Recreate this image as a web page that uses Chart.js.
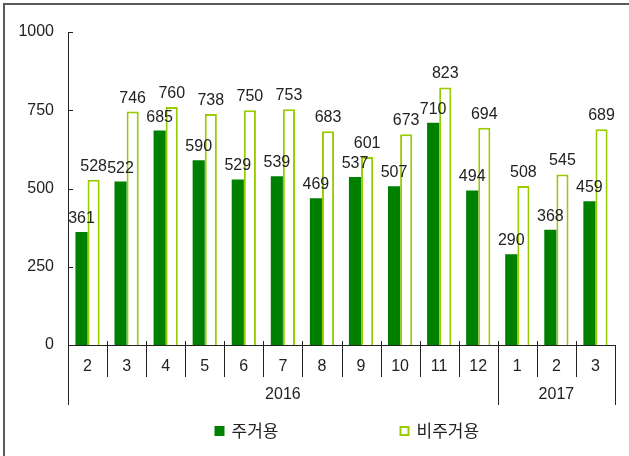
<!DOCTYPE html>
<html lang="ko">
<head>
<meta charset="utf-8">
<script src="https://cdn.jsdelivr.net/npm/chart.js@4.4.1/dist/chart.umd.min.js"></script>
<style>
  html, body { margin: 0; padding: 0; background: #fff; }
  #wrap { width: 629px; height: 456px; }
</style>
</head>
<body>
<div id="wrap"><canvas id="chart" width="629" height="456"></canvas></div>

<script>
    const months = ["2", "3", "4", "5", "6", "7", "8", "9", "10", "11", "12", "1", "2", "3"];
    const years = [{label: "2016", from: 0, to: 10}, {label: "2017", from: 11, to: 13}];
    const residential = [361, 522, 685, 590, 529, 539, 469, 537, 507, 710, 494, 290, 368, 459];
    const nonResidential = [528, 746, 760, 738, 750, 753, 683, 601, 673, 823, 694, 508, 545, 689];
    const yTicks = [0, 250, 500, 750, 1000];

    const numFamily = '"Liberation Sans", Arial, sans-serif';
    const numFont = '16px ' + numFamily;
    const krFont = '17px "Noto Sans CJK KR", sans-serif';
    const ink = "#222222";

    // frame, dividers, inward y ticks, year row, value labels and legend
    const extras = {
        id: "extras",
        beforeDraw(chart) {
            const ctx = chart.ctx;
            ctx.save();
            ctx.strokeStyle = "#5a5a5a";
            ctx.lineWidth = 2;
            ctx.beginPath();
            ctx.moveTo(4, chart.height);
            ctx.lineTo(4, 4);
            ctx.lineTo(chart.width, 4);
            ctx.stroke();
            ctx.restore();
        },
        afterDraw(chart) {
            const ctx = chart.ctx;
            const x = chart.scales.x, y = chart.scales.y;
            const area = chart.chartArea;
            const half = (x.getPixelForValue(1) - x.getPixelForValue(0)) / 2;
            const base = y.getPixelForValue(0);
            ctx.save();
            ctx.strokeStyle = ink;
            ctx.lineWidth = 1;

            // y ticks pointing into the plot
            yTicks.forEach(v => {
                const py = Math.round(y.getPixelForValue(v)) + 0.5;
                ctx.beginPath();
                ctx.moveTo(area.left, py);
                ctx.lineTo(area.left + 5, py);
                ctx.stroke();
            });

            // month dividers
            for (let i = 1; i < months.length; i++) {
                const px = Math.round(x.getPixelForValue(i) - half) + 0.5;
                ctx.beginPath();
                ctx.moveTo(px, base - 4);
                ctx.lineTo(px, base + 32);
                ctx.stroke();
            }

            // year row
            ctx.font = numFont;
            ctx.fillStyle = ink;
            ctx.textAlign = "center";
            ctx.textBaseline = "middle";
            const edges = new Set();
            years.forEach(g => {
                const l = x.getPixelForValue(g.from) - half;
                const r = x.getPixelForValue(g.to) + half;
                edges.add(Math.round(l)); edges.add(Math.round(r));
                ctx.fillText(g.label, (l + r) / 2, base + 50);
            });
            edges.forEach(px => {
                ctx.beginPath();
                ctx.moveTo(px + 0.5, base);
                ctx.lineTo(px + 0.5, base + 60);
                ctx.stroke();
            });

            // value labels
            ctx.textBaseline = "alphabetic";
            chart.data.datasets.forEach((ds, di) => {
                chart.getDatasetMeta(di).data.forEach((bar, i) => {
                    ctx.fillText(String(ds.data[i]), bar.x, bar.y - 9);
                });
            });

            // legend
            const mid = (area.left + area.right) / 2;
            const items = [
                {ds: chart.data.datasets[0], x: mid - 127},
                {ds: chart.data.datasets[1], x: mid + 58}
            ];
            const ly = base + 86;
            ctx.font = krFont;
            ctx.textAlign = "left";
            ctx.textBaseline = "middle";
            items.forEach(it => {
                if (it.ds.backgroundColor === "#ffffff") {
                    ctx.fillStyle = "#ffffff";
                    ctx.fillRect(it.x, ly - 5, 10, 10);
                    ctx.strokeStyle = it.ds.borderColor;
                    ctx.lineWidth = 2;
                    ctx.strokeRect(it.x + 1, ly - 4, 8, 8);
                } else {
                    ctx.fillStyle = it.ds.backgroundColor;
                    ctx.fillRect(it.x, ly - 5, 10, 10);
                }
                ctx.fillStyle = ink;
                ctx.fillText(it.ds.label, it.x + 17, ly);
            });
            ctx.restore();
        }
    };

    new Chart("chart", {
        type: "bar",
        data: {
            labels: months,
            datasets: [
                {
                    label: "주거용",
                    data: residential,
                    backgroundColor: "#008000",
                    borderWidth: 0,
                    categoryPercentage: 0.62,
                    barPercentage: 1
                },
                {
                    label: "비주거용",
                    data: nonResidential,
                    backgroundColor: "#ffffff",
                    borderColor: "#99cc00",
                    borderWidth: 2,
                    borderSkipped: "bottom",
                    categoryPercentage: 0.62,
                    barPercentage: 1
                }
            ]
        },
        options: {
            responsive: false,
            animation: false,
            layout: {padding: {top: 32, right: 14, left: 0, bottom: 0}},
            plugins: {
                legend: {display: false},
                tooltip: {enabled: false}
            },
            scales: {
                x: {
                    grid: {display: false},
                    border: {display: true, color: ink, width: 1},
                    ticks: {
                        color: ink,
                        font: {family: numFamily, size: 16},
                        padding: 4,
                        maxRotation: 0,
                        autoSkip: false
                    },
                    afterFit(scale) { scale.height = 111; }
                },
                y: {
                    min: 0,
                    max: 1000,
                    grid: {display: false},
                    border: {display: true, color: ink, width: 1},
                    ticks: {
                        stepSize: 250,
                        color: ink,
                        font: {family: numFamily, size: 16},
                        padding: 6,
                        callback: v => String(v)
                    },
                    afterFit(scale) { scale.width = 68; }
                }
            }
        },
        plugins: [extras]
    });
</script>
</body>
</html>
